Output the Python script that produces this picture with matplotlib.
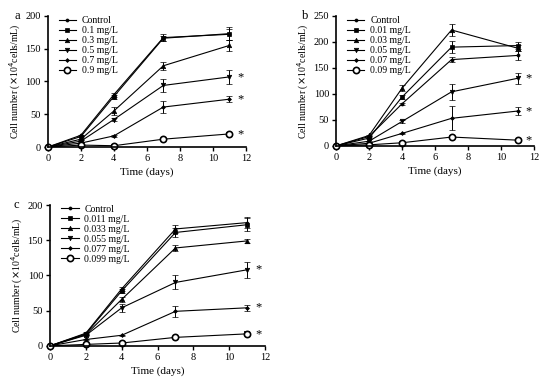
import matplotlib.pyplot as plt

plt.rcParams['font.family'] = ['Liberation Serif', 'DejaVu Serif']

days = [0, 2, 4, 7, 11]

labels_a = ["Control", "0.1 mg/L", "0.3 mg/L", "0.5 mg/L", "0.7 mg/L", "0.9 mg/L"]
vals_a = [[0, 18, 80, 167, 172],
          [0, 16, 77, 166, 173],
          [0, 12, 55, 124, 155],
          [0, 9, 42, 94, 107],
          [0, 6, 17, 61, 73],
          [0, 3, 2, 12, 20]]
errs_a = [[0, 1, 3, 5, 8],
          [0, 1, 3, 4, 10],
          [0, 1, 6, 6, 8],
          [0, 1, 2, 10, 11],
          [0, 1, 1, 9, 5],
          [0, 0, 1, 1, 2]]

labels_b = ["Control", "0.01 mg/L", "0.03 mg/L", "0.05 mg/L", "0.07 mg/L", "0.09 mg/L"]
vals_b = [[0, 18, 81, 166, 174],
          [0, 15, 94, 190, 193],
          [0, 20, 111, 223, 188],
          [0, 9, 47, 104, 130],
          [0, 5, 24, 53, 67],
          [0, 2, 6, 17, 11]]
errs_b = [[0, 1, 2, 5, 8],
          [0, 1, 4, 12, 7],
          [0, 1, 6, 12, 6],
          [0, 1, 3, 15, 10],
          [0, 1, 1, 23, 8],
          [0, 0, 1, 2, 1]]

labels_c = ["Control", "0.011 mg/L", "0.033 mg/L", "0.055 mg/L", "0.077 mg/L", "0.099 mg/L"]
vals_c = [[0, 18, 81, 166, 175],
          [0, 17, 78, 161, 172],
          [0, 16, 66, 139, 149],
          [0, 15, 54, 90, 108],
          [0, 9, 15, 49, 54],
          [0, 2, 4, 12, 17]]
errs_c = [[0, 1, 3, 6, 8],
          [0, 1, 3, 6, 9],
          [0, 1, 4, 4, 3],
          [0, 1, 6, 10, 11],
          [0, 1, 1, 8, 4],
          [0, 0, 1, 1, 2]]

markers = ['o', 's', '^', 'v', 'D', 'o']
msizes = [2.2, 2.8, 3.2, 3.2, 2.0, 4.5]


def panel(ax, tag, labels, vals, errs, ymax):
    for i in range(len(labels)):
        face = 'white' if i == 5 else 'black'
        ax.errorbar(days, vals[i], yerr=errs[i], color='black', lw=0.8,
                    marker=markers[i], ms=msizes[i], mfc=face, mec='black',
                    mew=1.2 if i == 5 else 0.5, capsize=2.5, elinewidth=0.7,
                    capthick=0.7, label=labels[i], clip_on=False)
    for i in (3, 4, 5):
        ax.text(11.65, vals[i][-1], "*", fontsize=9, ha='center', va='center')
    ax.set_xlim(0, 12)
    ax.set_ylim(0, ymax)
    ax.set_xticks(range(0, 13, 2))
    ax.set_yticks(range(0, ymax + 1, 50))
    ax.spines['top'].set_visible(False)
    ax.spines['right'].set_visible(False)
    ax.spines['left'].set_linewidth(1.2)
    ax.spines['bottom'].set_linewidth(1.2)
    ax.tick_params(direction='out', labelsize=7.5, width=1, length=3, pad=2)
    ax.set_xlabel("Time (days)", fontsize=8, labelpad=3)
    ax.set_ylabel("Cell number ($\\times$10$^4$cells/mL)", fontsize=7, labelpad=2)
    h, l = ax.get_legend_handles_labels()
    h = [x[0] for x in h]
    ax.legend(h, l, loc='upper left', bbox_to_anchor=(0.02, 1.05), frameon=False,
              fontsize=7, handlelength=1.8, handletextpad=0.6,
              labelspacing=0.1, borderpad=0.2)
    ax.text(-0.17, 1.0, tag, transform=ax.transAxes, fontsize=9, va='center')


fig = plt.figure(figsize=(5.5, 3.89), dpi=100)
ax_a = fig.add_axes([0.087, 0.622, 0.36, 0.337])
ax_b = fig.add_axes([0.611, 0.625, 0.36, 0.334])
ax_c = fig.add_axes([0.091, 0.111, 0.391, 0.362])

panel(ax_a, "a", labels_a, vals_a, errs_a, 200)
panel(ax_b, "b", labels_b, vals_b, errs_b, 250)
panel(ax_c, "c", labels_c, vals_c, errs_c, 200)

fig.savefig("out.png", dpi=100)
